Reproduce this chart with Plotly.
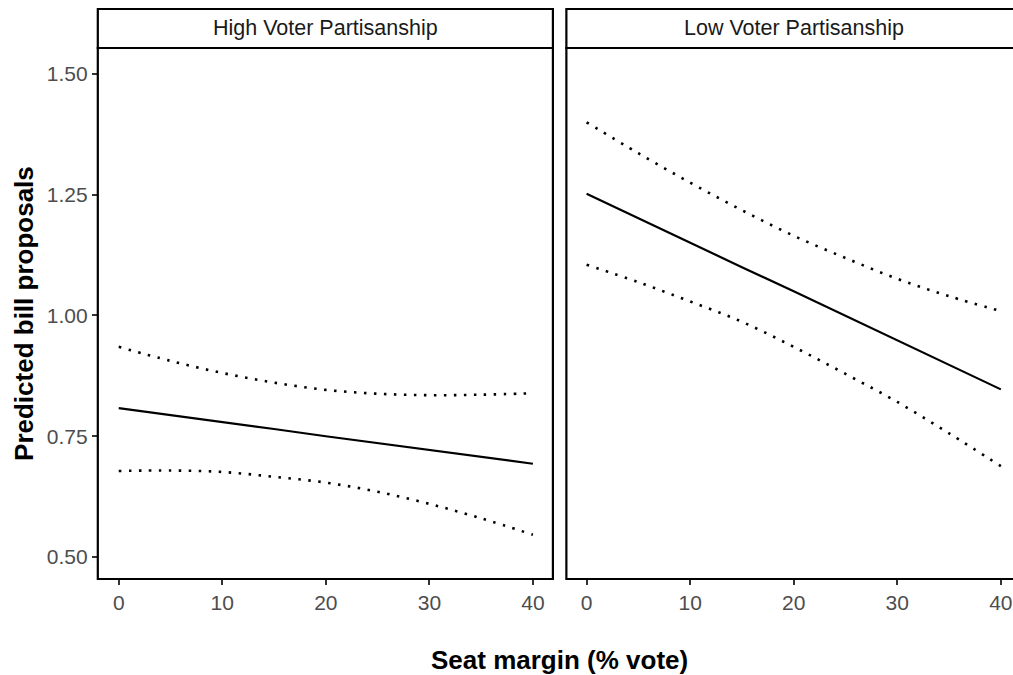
import plotly.graph_objects as go

# Predicted bill proposals by seat margin, split by voter partisanship
seat_margin = [0, 5, 10, 15, 20, 25, 30, 35, 40]

high_fit = [0.808, 0.794, 0.779, 0.765, 0.750, 0.736, 0.721, 0.707, 0.693]
high_upper = [0.935, 0.906, 0.881, 0.861, 0.846, 0.838, 0.835, 0.836, 0.839]
high_lower = [0.678, 0.679, 0.676, 0.666, 0.654, 0.635, 0.610, 0.580, 0.546]

low_fit = [1.252, 1.201, 1.151, 1.100, 1.050, 0.999, 0.948, 0.898, 0.847]
low_upper = [1.400, 1.336, 1.275, 1.218, 1.165, 1.119, 1.076, 1.040, 1.009]
low_lower = [1.105, 1.069, 1.029, 0.987, 0.935, 0.879, 0.821, 0.756, 0.688]

panel_titles = ["High Voter Partisanship", "Low Voter Partisanship"]
y_ticks = [0.50, 0.75, 1.00, 1.25, 1.50]
y_tick_text = ["0.50", "0.75", "1.00", "1.25", "1.50"]
x_ticks = [0, 10, 20, 30, 40]

W, H = 1013, 675
FONT = "Liberation Sans, Arial, Helvetica, sans-serif"

def px(x):
    return x / W

def py(y):
    return 1 - y / H

left_dom = [px(98), px(554)]
right_dom = [px(567.5), 1.0]
y_dom = [py(579), py(48)]
strip_dom = [py(48), py(9)]

fig = go.Figure()

panels = [
    ("x", "y", high_fit, high_upper, high_lower),
    ("x2", "y2", low_fit, low_upper, low_lower),
]
for xa, ya, fit, up, lo in panels:
    for vals in (up, lo):
        fig.add_trace(go.Scatter(
            x=seat_margin, y=vals, xaxis=xa, yaxis=ya, mode="lines",
            line=dict(color="black", width=2.6, dash="2.5px,7.5px", shape="spline"),
            showlegend=False, hoverinfo="skip"))
    fig.add_trace(go.Scatter(
        x=seat_margin, y=fit, xaxis=xa, yaxis=ya, mode="lines",
        line=dict(color="black", width=2.2),
        showlegend=False, hoverinfo="skip"))

tick_font = dict(family=FONT, size=21, color="#4d4d4d")
y_range = [0.4544, 1.5538]

common_x = dict(tickmode="array", tickvals=x_ticks, ticks="outside", ticklen=5,
                tickwidth=1.8, tickcolor="#333333", showgrid=False, zeroline=False,
                showline=False, tickfont=tick_font, ticklabeloverflow="allow")

fig.update_layout(
    width=W, height=H,
    margin=dict(l=0, r=0, t=0, b=0),
    paper_bgcolor="white", plot_bgcolor="white",
    xaxis=dict(domain=left_dom, range=[-2.02, 41.93], anchor="y", **common_x),
    xaxis2=dict(domain=right_dom, range=[-1.95, 40.98], anchor="y2", **common_x),
    yaxis=dict(domain=y_dom, range=y_range, anchor="x", tickmode="array",
               tickvals=y_ticks, ticktext=y_tick_text, ticks="outside", ticklen=5,
               tickwidth=1.8, tickcolor="#333333", showgrid=False, zeroline=False,
               showline=False, tickfont=tick_font),
    yaxis2=dict(domain=y_dom, range=y_range, anchor="x2", showticklabels=False,
                ticks="", showgrid=False, zeroline=False, showline=False),
)

# Panel borders and facet strips
shapes = []
for x0, x1 in ((px(98), px(554)), (px(567.5), px(1030))):
    shapes.append(dict(type="rect", xref="paper", yref="paper", x0=x0, x1=x1,
                       y0=y_dom[0], y1=y_dom[1], line=dict(color="black", width=2.2),
                       fillcolor="rgba(0,0,0,0)", layer="above"))
    shapes.append(dict(type="rect", xref="paper", yref="paper", x0=x0, x1=x1,
                       y0=strip_dom[0], y1=strip_dom[1], line=dict(color="black", width=2.2),
                       fillcolor="white", layer="above"))
fig.update_layout(shapes=shapes)

annotations = []
strip_centers = [px((98 + 554) / 2), px((567.5 + 1024) / 2)]
for cx, title in zip(strip_centers, panel_titles):
    annotations.append(dict(text=title, xref="paper", yref="paper", x=cx,
                            y=(strip_dom[0] + strip_dom[1]) / 2, showarrow=False,
                            xanchor="center", yanchor="middle",
                            font=dict(family=FONT, size=21.5, color="#1a1a1a")))
annotations.append(dict(text="<b>Seat margin (% vote)</b>", xref="paper", yref="paper",
                        x=px(561), y=py(660), showarrow=False, xanchor="center",
                        yanchor="middle", font=dict(family=FONT, size=26, color="black")))
annotations.append(dict(text="<b>Predicted bill proposals</b>", xref="paper", yref="paper",
                        x=px(24), y=py(313), showarrow=False, xanchor="center",
                        yanchor="middle", textangle=-90,
                        font=dict(family=FONT, size=26, color="black")))
fig.update_layout(annotations=annotations)

fig.write_html("out.html")
